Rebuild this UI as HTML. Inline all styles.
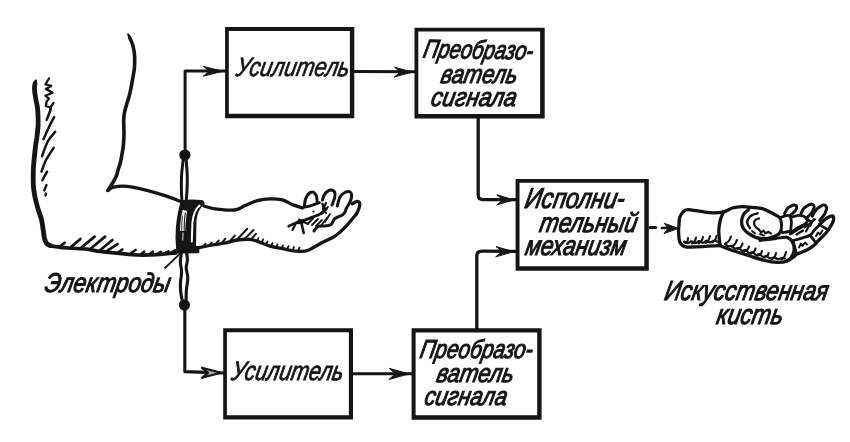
<!DOCTYPE html>
<html><head><meta charset="utf-8"><title>Схема</title>
<style>
html,body{margin:0;padding:0;background:#fff;}
body{width:850px;height:442px;overflow:hidden;font-family:"Liberation Sans",sans-serif;}
svg{display:block;will-change:transform;transform:translateZ(0);filter:blur(0.45px)}
svg path,svg rect{fill:none;stroke:#151515;stroke-linecap:round;stroke-linejoin:round}
svg rect{stroke-linejoin:miter}
svg text{font-family:"Liberation Sans",sans-serif;font-style:italic;fill:#151515;stroke:#151515;stroke-width:1.1px}
</style></head><body>
<svg width="850" height="442" viewBox="0 0 850 442">
<path d="M225.1 27.1H354.3V118.2H225.1ZM228.8 30.9H349.9V113.7H228.8Z" style="fill:#151515;stroke:none;fill-rule:evenodd"/>
<path d="M414.5 27.8H544.7V118.5H414.5ZM418.3 31.6H540.1V113.9H418.3Z" style="fill:#151515;stroke:none;fill-rule:evenodd"/>
<path d="M223.2 328.2H353.0V419.5H223.2ZM226.9 332.3H348.9V415.2H226.9Z" style="fill:#151515;stroke:none;fill-rule:evenodd"/>
<path d="M411.6 328.2H541.6V419.8H411.6ZM415.6 332.5H537.2V415.3H415.6Z" style="fill:#151515;stroke:none;fill-rule:evenodd"/>
<path d="M515.6 179.0H648.8V270.8H515.6ZM519.5 182.7H644.3V266.2H519.5Z" style="fill:#151515;stroke:none;fill-rule:evenodd"/>
<path d="M185.1 155.0L185.1 70.9L226.0 71.1" stroke-width="3.0" />
<path d="M354.0 71.4L415.5 71.8" stroke-width="3.0" />
<path d="M478.2 117L478.2 195Q478.2 199.6 483 199.6L516.5 199.6" stroke-width="3.3" />
<path d="M184.8 305.0L184.8 371.6L206.0 372.4L224.0 373.0" stroke-width="3.1" />
<path d="M353.0 373.8L412.5 373.8" stroke-width="3.1" />
<path d="M476.8 329L476.8 256Q476.8 251.2 482 251.2L516.5 251.4" stroke-width="3.3" />
<path d="M222.5 71.2L203.5 66.4L209.5 71.2L203.5 76.0Z" style="fill:#151515" stroke-width="1"/>
<path d="M412.0 72.0L394.5 67.2L400.5 72.0L394.5 76.8Z" style="fill:#151515" stroke-width="1"/>
<path d="M221.0 372.8L202.0 367.8L208.0 372.8L202.0 377.8Z" style="fill:#aaa" stroke-width="2.2"/>
<path d="M408.8 373.8L389.3 368.4L395.3 373.8L389.3 379.2Z" style="fill:#151515" stroke-width="1"/>
<path d="M513.5 199.8L497.0 194.8L503.0 199.8L497.0 204.8Z" style="fill:#151515" stroke-width="1"/>
<path d="M513.5 251.6L496.0 246.6L502.0 251.6L496.0 256.6Z" style="fill:#151515" stroke-width="1"/>
<path d="M650.0 227.6L655.6 227.6" stroke-width="3.0" />
<path d="M662.0 228.0L668.0 228.0" stroke-width="2.6" />
<path d="M678.2 228.3L664.2 223.3L668.2 228.3L664.2 233.3Z" style="fill:#151515" stroke-width="1"/>
<circle cx="184.9" cy="155" r="5.6" style="fill:#151515;stroke:none"/>
<circle cx="184.4" cy="305" r="5.6" style="fill:#151515;stroke:none"/>
<path d="M183.4 158.0C183.1 160.8 181.9 169.7 181.6 175.0C181.3 180.3 181.3 185.5 181.4 190.0C181.5 194.5 181.9 200.0 182.0 202.0" stroke-width="3.0" />
<path d="M186.0 158.0C186.2 160.8 187.0 169.7 187.2 175.0C187.4 180.3 187.2 185.5 187.0 190.0C186.8 194.5 186.3 200.0 186.2 202.0" stroke-width="3.0" />
<path d="M181.4 252.0C181.2 253.7 180.4 258.7 180.4 262.0C180.4 265.3 181.6 268.3 181.6 272.0C181.6 275.7 180.5 280.3 180.4 284.0C180.3 287.7 180.6 291.0 181.0 294.0C181.4 297.0 182.3 300.7 182.6 302.0" stroke-width="3.1" />
<path d="M186.4 252.0C186.6 253.3 187.4 257.3 187.4 260.0C187.4 262.7 186.1 265.0 186.2 268.0C186.3 271.0 187.8 274.3 187.8 278.0C187.8 281.7 186.7 286.0 186.4 290.0C186.1 294.0 186.1 300.0 186.0 302.0" stroke-width="3.1" />
<path d="M35.7 80.8L34.9 84.0" stroke-width="2.6" />
<path d="M35.0 83.5C34.9 84.4 34.4 86.6 34.5 89.0C34.6 91.4 35.1 94.8 35.6 98.0C36.1 101.2 37.1 104.7 37.5 108.0C37.9 111.3 38.0 114.8 38.1 118.0C38.2 121.2 38.2 123.7 38.0 127.0C37.8 130.3 37.2 134.5 36.8 138.0C36.3 141.5 35.8 143.5 35.3 148.0C34.8 152.5 34.0 160.3 33.6 165.0C33.2 169.7 33.2 172.5 33.2 176.0C33.2 179.5 33.2 182.8 33.4 186.0C33.6 189.2 34.1 192.2 34.6 195.0C35.1 197.8 35.7 200.2 36.4 203.0C37.1 205.8 38.1 209.2 39.0 212.0C39.9 214.8 40.8 216.3 41.6 220.0C42.4 223.7 43.3 231.0 43.8 234.3C44.3 237.6 44.3 238.1 44.8 239.6C45.3 241.1 45.9 242.6 46.8 243.6C47.7 244.6 49.8 245.3 50.4 245.6" stroke-width="4.8" />
<path d="M49.6 245.6C50.3 245.7 50.7 245.9 53.8 246.3C56.9 246.7 62.5 247.5 68.0 248.0C73.5 248.5 81.7 248.6 87.0 249.2C92.3 249.8 94.7 250.7 100.0 251.4C105.3 252.1 112.7 252.7 119.0 253.3C125.3 253.9 131.7 254.8 138.0 255.0C144.3 255.2 150.7 255.0 157.0 254.6C163.3 254.2 172.8 253.1 176.0 252.8" stroke-width="3.7" />
<path d="M128.2 34.6L130.2 38.5" stroke-width="2.2" />
<path d="M129.6 37.5C130.1 38.5 131.5 41.4 132.3 43.8C133.1 46.2 133.8 49.3 134.2 52.0C134.6 54.7 134.7 57.3 134.7 60.0C134.7 62.7 134.7 65.2 134.4 68.0C134.1 70.8 133.6 73.7 133.0 77.0C132.4 80.3 131.6 84.8 131.0 88.0C130.4 91.2 130.0 93.1 129.2 96.0C128.4 98.9 127.1 102.7 126.3 105.5C125.5 108.3 124.8 110.6 124.4 113.0C124.0 115.4 123.8 116.3 123.7 119.8C123.6 123.3 124.0 130.3 124.0 134.0C124.0 137.7 123.8 139.6 123.6 142.0C123.4 144.4 123.5 144.9 123.0 148.3C122.5 151.7 121.2 159.1 120.4 162.5C119.6 165.9 119.0 166.8 118.3 169.0C117.6 171.2 117.5 173.3 116.4 175.8C115.4 178.3 113.4 181.6 112.0 184.0C110.6 186.4 108.7 189.2 108.0 190.2" stroke-width="3.6" />
<path d="M107.6 190.6C108.6 190.0 110.9 187.9 113.5 187.2C116.1 186.5 119.8 186.2 123.0 186.2C126.2 186.2 128.5 186.5 132.5 187.2C136.5 187.9 141.4 188.9 146.8 190.3C152.2 191.7 159.5 193.8 165.0 195.6C170.5 197.4 177.5 200.3 180.0 201.2" stroke-width="3.3" />
<path d="M49.0 78.5L45.4 84.3L51.2 85.9L45.9 89.0L52.6 92.8L45.4 95.7L49.0 98.6L46.6 101.4L45.9 106.0L50.4 107.3L53.5 103.0" stroke-width="2.3" />
<path d="M50.4 107.3L50.2 111.0" stroke-width="2.2" />
<path d="M50.9 108.5C50.6 109.4 49.7 112.1 49.0 114.0C48.3 115.9 47.0 118.9 46.6 119.9" stroke-width="2.5" />
<path d="M54.2 117.0C53.3 118.7 50.8 123.3 49.0 127.0C47.2 130.7 44.4 137.2 43.5 139.2" stroke-width="2.5" />
<path d="M55.2 131.8C54.0 133.3 50.2 136.9 48.0 141.0C45.8 145.1 43.0 153.8 42.0 156.3" stroke-width="2.5" />
<path d="M53.7 147.9C52.4 149.9 48.0 156.1 46.0 160.0C44.0 163.9 42.2 169.7 41.5 171.6" stroke-width="2.5" />
<path d="M47.1 171.7C46.7 172.4 45.4 174.6 44.6 176.0C43.8 177.4 42.8 179.5 42.4 180.2" stroke-width="2.5" />
<path d="M46.5 185.0L44.3 190.4" stroke-width="2.4" />
<path d="M45.9 193.6L45.4 195.4" stroke-width="2.4" />
<path d="M60.4 246.1L64.7 242.8" stroke-width="2.7" />
<path d="M70.9 247.1L80.4 239.0" stroke-width="2.7" />
<path d="M81.3 247.6L94.6 236.6" stroke-width="2.7" />
<path d="M90.8 248.5L105.1 236.6" stroke-width="2.7" />
<path d="M100.3 250.0L112.4 240.0" stroke-width="2.7" />
<path d="M107.6 250.4L117.6 244.2" stroke-width="2.7" />
<path d="M119.0 251.8L122.3 249.5" stroke-width="2.7" />
<path d="M131.4 252.8L135.6 250.0" stroke-width="2.7" />
<path d="M141.8 253.6L144.2 251.8" stroke-width="2.7" />
<path d="M150.4 253.6L152.8 251.8" stroke-width="2.7" />
<path d="M158.0 253.6L160.8 251.8" stroke-width="2.7" />
<path d="M165.6 252.8L168.4 251.4" stroke-width="2.7" />
<path d="M172.2 252.2L175.0 250.4" stroke-width="2.7" />
<path d="M180.8 201 Q192 199.4 202.6 201 Q204.6 202.4 203.2 204.4 Q197.4 208.5 195.8 220 L195.3 246.4 L198.6 246.8 L198.6 252.6 L177 252.8 L176.2 238 Q176.2 220 180.8 203.4Z" style="fill:#151515" stroke-width="1.4"/>
<path d="M199.6 205.6 Q193.6 210.5 192.4 223 L191.8 241.5" style="stroke:#fff" stroke-width="2.0"/>
<path d="M185.2 210.5 Q183 218 182.6 231" style="stroke:#fff;stroke-linecap:butt" stroke-width="5.2"/>
<path d="M185.4 213 Q184 220 184.2 233" stroke-width="1.1"/>
<path d="M182.4 216 Q181.6 222 181.6 232" stroke-width="0.9"/>
<path d="M187.8 209 Q186.6 215 187 221" stroke-width="0.9"/>
<path d="M183 233 L182.6 240" style="stroke:#999" stroke-width="1.6"/>
<path d="M165.0 268.0L180.0 253.7" stroke-width="1.8" />
<path d="M204.0 206.0C205.8 206.5 209.8 208.1 215.0 208.8C220.2 209.5 229.9 210.5 234.9 210.0C239.9 209.5 241.2 207.2 244.9 205.6C248.6 204.0 253.2 201.7 257.3 200.6C261.4 199.5 265.6 199.0 269.8 198.9C274.0 198.8 278.5 199.0 282.3 199.9C286.1 200.8 289.0 203.2 292.4 204.6C295.8 205.9 300.7 207.4 302.4 208.0" stroke-width="3.3" />
<path d="M199.0 247.6C201.2 247.2 208.0 245.8 212.3 245.0C216.6 244.2 220.6 243.8 224.8 243.0C229.0 242.2 233.2 240.6 237.3 240.0C241.5 239.4 246.2 239.1 249.7 239.3C253.1 239.6 254.6 240.3 258.0 241.5C261.4 242.7 265.9 245.0 270.0 246.2C274.1 247.4 277.9 247.9 282.5 248.7C287.1 249.5 293.2 250.9 297.4 251.2C301.5 251.5 303.6 251.8 307.4 250.5C311.2 249.2 315.4 246.1 320.0 243.7C324.6 241.3 330.7 238.9 334.8 236.2C338.9 233.5 341.7 230.6 344.8 227.5C347.9 224.4 351.4 220.0 353.5 217.5C355.6 215.0 356.2 214.6 357.3 212.4C358.4 210.2 359.8 206.3 359.8 204.5C359.8 202.7 358.6 201.5 357.3 201.4C356.1 201.3 353.1 203.3 352.3 203.7" stroke-width="3.3" />
<path d="M203.6 246.2L205.5 243.7" stroke-width="2.0" />
<path d="M209.8 245.0L211.7 242.5" stroke-width="2.0" />
<path d="M216.0 243.7L218.6 240.6" stroke-width="2.0" />
<path d="M222.3 242.5L225.4 238.7" stroke-width="2.0" />
<path d="M229.8 241.2L234.8 235.6" stroke-width="2.0" />
<path d="M237.3 239.3L247.3 228.7" stroke-width="2.0" />
<path d="M244.8 238.7L253.5 230.0" stroke-width="2.0" />
<path d="M251.0 239.3L256.0 233.7" stroke-width="2.0" />
<path d="M257.0 241.0L258.5 238.0" stroke-width="1.9" />
<path d="M261.5 242.6L263.2 239.4" stroke-width="1.9" />
<path d="M266.0 244.4L267.6 241.4" stroke-width="1.9" />
<path d="M271.0 246.4L272.5 243.2" stroke-width="1.9" />
<path d="M276.0 247.6L277.5 244.6" stroke-width="1.9" />
<path d="M281.5 248.6L283.0 245.4" stroke-width="1.9" />
<path d="M287.0 249.6L288.5 246.2" stroke-width="1.9" />
<path d="M292.5 250.5L294.0 247.0" stroke-width="1.9" />
<path d="M298.0 251.0L299.5 247.6" stroke-width="1.9" />
<path d="M304.4 205.6C304.6 204.6 304.9 201.3 305.4 199.5C305.9 197.7 306.8 196.2 307.6 195.0C308.5 193.8 309.5 192.9 310.5 192.5C311.5 192.1 312.7 191.9 313.6 192.3C314.5 192.7 315.4 193.9 316.0 195.0C316.6 196.1 316.7 197.8 316.9 199.0C317.1 200.2 317.1 201.8 317.2 202.4" stroke-width="3.0" />
<path d="M303.0 207.4C304.3 207.1 308.2 206.4 311.0 205.6C313.8 204.8 318.1 203.1 319.5 202.6" stroke-width="2.8" />
<path d="M298.5 222.2L303.5 221.2" stroke-width="4.2" />
<path d="M322.5 204.0L323.5 207.5L326.5 209.0" stroke-width="2.4" />
<path d="M322.4 200.0C322.7 199.2 323.3 196.8 324.0 195.5C324.7 194.2 325.4 192.9 326.6 192.0C327.8 191.1 329.6 189.9 331.0 190.0C332.4 190.1 334.2 191.2 334.8 192.5C335.4 193.8 335.1 195.9 334.6 198.0C334.1 200.1 332.4 203.8 332.0 205.0" stroke-width="3.0" />
<path d="M337.3 206.0C337.7 204.6 338.6 199.7 339.8 197.4C341.1 195.2 343.1 193.4 344.8 192.5C346.5 191.6 348.7 191.2 349.8 191.8C350.9 192.4 351.7 194.4 351.7 196.2C351.7 198.0 350.7 200.4 349.8 202.4C348.9 204.4 347.3 206.4 346.5 208.0C345.7 209.6 345.7 210.8 345.0 212.0C344.3 213.2 344.0 213.9 342.3 215.0C340.6 216.1 336.7 217.0 334.8 218.6C332.9 220.2 332.6 223.3 331.0 224.5C329.4 225.7 327.2 225.7 325.0 226.0C322.8 226.3 319.8 225.7 318.0 226.5C316.2 227.3 314.7 230.2 314.0 231.0" stroke-width="3.0" />
<path d="M288.7 226.2C290.1 225.6 294.3 223.5 297.0 222.5C299.7 221.5 302.2 221.0 305.0 220.0C307.8 219.0 311.5 217.5 314.0 216.5C316.5 215.5 318.0 215.2 320.0 214.0C322.0 212.8 325.0 209.8 326.0 209.0" stroke-width="2.8" />
<path d="M296.0 223.0L292.5 230.0" stroke-width="2.2" />
<path d="M301.0 221.0L303.7 233.0" stroke-width="2.6" />
<path d="M299.0 219.5L308.0 224.0" stroke-width="2.0" />
<path d="M308.0 223.5L313.0 218.5" stroke-width="1.8" />
<path d="M312.0 225.0L318.0 219.0" stroke-width="1.8" />
<path d="M316.0 226.0L322.0 220.0" stroke-width="1.8" />
<path d="M321.0 225.5L327.0 218.0" stroke-width="1.8" />
<path d="M325.0 222.0L330.0 214.0" stroke-width="1.8" />
<path d="M322.0 214.0L328.0 207.0" stroke-width="1.8" />
<path d="M326.0 203.0L323.0 209.0L326.0 213.0" stroke-width="2.2" />
<circle cx="313.5" cy="211.5" r="1.1" style="fill:#151515;stroke:none"/>
<path d="M719.4 245.6C715.5 245.8 701.6 246.6 696.0 246.8C690.4 247.0 688.3 247.5 685.6 246.8C682.9 246.1 681.2 244.8 680.0 242.4C678.8 240.0 678.8 235.3 678.6 232.4C678.4 229.5 678.8 227.6 679.0 225.0C679.2 222.4 678.8 219.1 680.0 216.6C681.2 214.1 683.1 211.0 686.0 210.0C688.9 209.0 693.4 210.4 697.4 210.8C701.4 211.2 705.6 212.5 710.0 212.7C714.4 212.9 719.9 212.6 723.6 211.8C727.3 211.0 729.2 208.9 732.3 208.0C735.4 207.1 739.0 206.7 742.3 206.6C745.6 206.5 749.0 207.0 752.3 207.3C755.6 207.7 759.2 207.8 762.3 208.7C765.4 209.6 768.0 211.0 771.0 212.5C774.0 214.0 778.5 216.7 780.0 217.5" stroke-width="3.3" />
<path d="M723.6 211.8C723.0 213.2 721.1 217.0 720.3 220.0C719.5 223.0 719.0 227.1 718.8 230.0C718.6 232.9 719.0 234.9 719.2 237.4C719.4 239.9 719.9 243.7 720.0 245.0" stroke-width="3.3" />
<path d="M718.7 245.0C720.8 245.8 726.0 248.2 731.2 250.0C736.4 251.8 744.4 254.2 750.0 256.0C755.6 257.8 760.2 259.4 764.8 260.5C769.3 261.6 773.5 262.3 777.3 262.4C781.0 262.5 784.4 262.1 787.3 261.0C790.2 259.9 793.5 256.8 794.8 256.0" stroke-width="3.3" />
<path d="M780.0 217.5C780.2 218.6 781.3 221.8 781.5 224.0C781.7 226.2 781.1 229.8 781.0 231.0" stroke-width="3.0" />
<path d="M781.0 217.4C781.8 217.1 784.5 215.8 786.0 215.6C787.5 215.4 789.1 215.1 790.0 216.2C790.9 217.3 791.2 220.2 791.4 222.0C791.6 223.8 791.2 225.5 791.0 227.0C790.8 228.5 791.4 230.1 790.0 231.0C788.6 231.9 783.7 232.3 782.4 232.6" stroke-width="2.8" />
<path d="M748.5 209.6C747.7 210.4 744.6 212.6 743.5 214.5C742.4 216.4 741.8 218.9 741.6 221.0C741.5 223.1 741.8 225.2 742.6 227.0C743.4 228.8 744.8 230.3 746.2 231.6C747.6 232.9 749.3 234.0 751.0 235.0C752.7 236.0 754.4 237.0 756.2 237.6C758.0 238.2 760.0 238.5 762.0 238.6C764.0 238.7 766.0 238.7 768.0 238.4C770.0 238.1 772.3 237.3 774.0 236.6C775.7 235.9 777.2 235.3 778.4 234.4C779.6 233.5 780.6 231.6 781.0 231.0" stroke-width="3.3" />
<path d="M757.5 213.4C756.5 213.7 753.2 214.4 751.6 215.4C750.0 216.4 748.5 218.2 747.8 219.6C747.1 221.0 747.1 222.6 747.5 224.0C747.9 225.4 749.6 227.5 750.0 228.2" stroke-width="2.5" />
<path d="M759.0 218.4C758.4 218.7 756.2 219.2 755.4 220.0C754.6 220.8 754.0 221.9 754.0 223.0C754.0 224.1 754.6 225.5 755.4 226.6C756.2 227.7 758.2 228.9 758.7 229.3" stroke-width="2.3" />
<path d="M758.7 229.3L761.0 232.4L763.6 230.5L765.4 233.4L768.5 231.8L771.0 233.6" stroke-width="2.1" />
<path d="M752.0 231.0L755.0 233.5" stroke-width="1.9" />
<path d="M760.0 234.0L764.0 235.6" stroke-width="1.9" />
<path d="M760.0 240.5C761.3 240.3 765.3 239.8 768.0 239.4C770.7 239.1 772.9 238.8 776.0 238.4C779.1 238.1 783.9 236.8 786.6 237.3C789.3 237.8 790.8 239.5 792.0 241.6C793.2 243.7 794.2 247.3 794.0 250.0C793.8 252.7 792.1 255.8 790.9 257.6C789.7 259.4 787.6 260.4 787.0 261.0" stroke-width="3.0" />
<path d="M819.6 224.6C820.7 223.6 823.9 220.2 826.0 218.7C828.1 217.2 831.1 215.8 832.4 215.8C833.7 215.9 833.6 217.7 833.6 219.0C833.6 220.3 833.0 222.0 832.3 223.5C831.6 225.0 830.5 226.4 829.5 228.0C828.5 229.6 828.0 230.7 826.0 233.0C824.0 235.3 819.5 239.4 817.4 241.6C815.3 243.8 815.0 244.5 813.2 245.9C811.4 247.3 809.6 248.6 806.8 250.0C804.0 251.4 798.7 253.2 796.2 254.4C793.7 255.6 792.7 256.6 792.0 257.0" stroke-width="3.3" />
<path d="M819.6 224.6C818.8 225.5 816.1 228.2 814.5 230.0C812.9 231.8 812.2 233.8 810.0 235.2C807.8 236.6 803.8 237.5 801.0 238.4C798.2 239.3 794.3 240.2 793.0 240.5" stroke-width="2.8" />
<path d="M819.6 224.6L828.0 229.9" stroke-width="2.8" />
<path d="M810.0 235.2L816.4 243.7" stroke-width="2.8" />
<path d="M793.0 240.5L796.2 252.6" stroke-width="2.8" />
<path d="M799.0 247.5L801.0 243.5L802.5 246.0L805.0 242.5L807.0 244.5" stroke-width="1.9" />
<path d="M816.0 236.0L818.0 232.5L820.0 234.5L822.5 230.5" stroke-width="1.9" />
<path d="M784.6 213.6C784.9 213.0 785.7 211.0 786.4 210.0C787.1 209.0 787.4 208.3 788.6 207.5C789.8 206.7 792.2 205.2 793.6 205.0C795.0 204.8 796.5 205.6 796.7 206.6C796.9 207.6 796.0 209.9 795.0 211.2C794.0 212.5 791.7 214.0 791.0 214.6" stroke-width="3.0" />
<path d="M801.0 213.7C801.3 213.0 802.4 210.6 803.0 209.6C803.6 208.6 803.5 208.4 804.8 207.5C806.1 206.6 809.4 204.5 811.0 204.3C812.6 204.2 813.9 205.6 814.2 206.6C814.5 207.6 813.5 209.2 813.0 210.4C812.5 211.6 812.2 212.3 811.0 213.7C809.8 215.0 806.8 217.7 806.0 218.5" stroke-width="3.0" />
<path d="M812.3 216.2C812.7 215.5 813.8 213.2 814.6 212.0C815.4 210.8 815.8 209.9 817.3 208.7C818.8 207.5 821.9 205.2 823.5 205.0C825.1 204.8 826.3 206.5 826.7 207.5C827.1 208.5 826.1 210.0 825.8 211.0C825.5 212.0 825.8 212.1 824.8 213.7C823.8 215.3 820.6 219.4 819.8 220.5" stroke-width="3.0" />
<path d="M791.0 217.5C792.0 217.2 795.0 215.8 797.0 215.6C799.0 215.3 801.2 215.3 803.0 216.0C804.8 216.7 807.2 218.2 807.5 219.5C807.8 220.8 806.6 222.7 805.0 224.0C803.4 225.3 800.0 226.3 798.0 227.5C796.0 228.7 793.8 230.4 793.0 231.0" stroke-width="2.8" />
<path d="M807.5 219.5C808.2 219.8 810.5 221.5 811.6 221.5C812.7 221.5 813.6 219.8 814.0 219.4" stroke-width="2.5" />
<path d="M790.5 233.5L806.0 224.0" stroke-width="3.4" />
<path d="M796.5 234.5L803.0 230.5" stroke-width="2.3" />
<path d="M804.5 227.5L815.0 219.5" stroke-width="2.1" />
<path d="M806.0 231.5L808.5 226.5" stroke-width="2.1" />
<path d="M810.0 226.0L812.0 222.5" stroke-width="2.1" />
<path d="M685.5 243.0C685.8 242.7 687.1 241.9 687.5 241.1C688.0 240.3 687.9 238.5 688.0 238.0" stroke-width="2.1" />
<path d="M692.0 243.5C692.5 243.1 694.1 242.1 694.8 241.2C695.5 240.2 695.8 238.2 696.0 237.6" stroke-width="2.1" />
<path d="M698.5 243.4C699.0 243.0 700.8 241.9 701.5 240.8C702.3 239.7 702.8 237.6 703.0 237.0" stroke-width="2.1" />
<path d="M705.5 243.0C706.0 242.5 707.8 241.3 708.5 240.1C709.3 238.9 709.8 236.7 710.0 236.0" stroke-width="2.1" />
<path d="M712.5 242.4C713.0 242.0 714.6 240.9 715.3 239.8C716.0 238.7 716.3 236.6 716.5 236.0" stroke-width="2.1" />
<path d="M725.0 244.0C725.6 243.5 727.8 242.1 728.8 240.8C729.8 239.6 730.6 237.2 731.0 236.5" stroke-width="2.1" />
<path d="M731.5 246.6C732.1 246.2 734.1 245.0 735.0 243.9C736.0 242.8 736.7 240.7 737.0 240.0" stroke-width="2.1" />
<path d="M738.0 249.0C738.5 248.7 740.3 247.8 741.0 246.9C741.8 246.0 742.3 244.2 742.5 243.6" stroke-width="2.1" />
<path d="M744.5 251.4C745.0 251.1 746.8 250.4 747.5 249.5C748.3 248.7 748.8 247.0 749.0 246.5" stroke-width="2.1" />
<path d="M751.0 253.6C751.5 253.3 753.3 252.5 754.0 251.7C754.8 250.8 755.3 249.0 755.5 248.5" stroke-width="2.1" />
<path d="M758.0 255.6C758.5 255.3 760.1 254.7 760.8 253.9C761.5 253.1 761.8 251.5 762.0 251.0" stroke-width="2.1" />
<path d="M765.0 257.5C765.4 257.2 767.0 256.6 767.5 255.8C768.1 255.1 768.3 253.5 768.5 253.0" stroke-width="2.1" />
<path d="M772.0 259.0C772.5 258.6 774.1 257.6 774.8 256.6C775.5 255.6 775.8 253.6 776.0 253.0" stroke-width="2.1" />
<path d="M781.5 259.6C782.0 259.1 783.8 257.7 784.5 256.4C785.3 255.1 785.8 252.7 786.0 252.0" stroke-width="2.1" />
<path d="M684.0 241.6C684.7 241.9 686.8 243.2 688.0 243.2C689.2 243.2 690.2 241.4 691.5 241.4C692.8 241.4 694.2 243.0 695.5 243.0C696.8 243.0 697.8 241.2 699.0 241.2C700.2 241.2 701.8 242.8 703.0 242.8C704.2 242.8 705.2 241.1 706.5 241.0C707.8 240.9 709.2 242.5 710.5 242.4C711.8 242.3 712.8 240.7 714.0 240.6C715.2 240.5 717.3 241.8 718.0 242.0" stroke-width="2.3" />
<path d="M725.0 244.2C725.6 244.6 727.4 246.1 728.5 246.4C729.6 246.7 730.4 245.4 731.5 245.8C732.6 246.2 733.8 248.3 735.0 248.6C736.2 248.9 737.3 247.4 738.5 247.8C739.7 248.2 740.8 250.4 742.0 250.8C743.2 251.2 744.3 249.6 745.5 250.0C746.7 250.4 747.8 252.6 749.0 253.0C750.2 253.4 751.3 251.9 752.5 252.2C753.7 252.5 754.8 254.7 756.0 255.0C757.2 255.3 758.3 253.9 759.5 254.2C760.7 254.5 761.8 256.5 763.0 256.8C764.2 257.1 765.3 255.7 766.5 256.0C767.7 256.3 768.8 258.2 770.0 258.4C771.2 258.6 772.7 257.3 774.0 257.4C775.3 257.5 776.7 259.1 778.0 259.2C779.3 259.3 780.8 258.1 782.0 258.0C783.2 257.9 784.5 258.5 785.0 258.6" stroke-width="2.2" />
<text transform="translate(234.9,76.4) rotate(0) skewX(-11)" x="0" y="0" textLength="113.3" lengthAdjust="spacingAndGlyphs" font-size="26.5" style="stroke-width:0.75px">Усилитель</text>
<text transform="translate(230.4,380.2) rotate(0) skewX(-11)" x="0" y="0" textLength="111.8" lengthAdjust="spacingAndGlyphs" font-size="26.5" style="stroke-width:0.85px">Усилитель</text>
<text transform="translate(422.3,57.6) rotate(1.0) skewX(-11)" x="0" y="0" textLength="109.4" lengthAdjust="spacingAndGlyphs" font-size="26" >Преобразо-</text>
<text transform="translate(439.8,82.9) rotate(0) skewX(-11)" x="0" y="0" textLength="76.4" lengthAdjust="spacingAndGlyphs" font-size="26" >ватель</text>
<text transform="translate(430.0,105.6) rotate(0) skewX(-11)" x="0" y="0" textLength="85.4" lengthAdjust="spacingAndGlyphs" font-size="26" >сигнала</text>
<text transform="translate(419.0,358.0) rotate(0) skewX(-11)" x="0" y="0" textLength="112.4" lengthAdjust="spacingAndGlyphs" font-size="26" >Преобразо-</text>
<text transform="translate(435.6,382.0) rotate(0) skewX(-11)" x="0" y="0" textLength="76.9" lengthAdjust="spacingAndGlyphs" font-size="26" >ватель</text>
<text transform="translate(423.4,405.3) rotate(0) skewX(-11)" x="0" y="0" textLength="82.4" lengthAdjust="spacingAndGlyphs" font-size="26" >сигнала</text>
<text transform="translate(523.8,208.2) rotate(0) skewX(-11)" x="0" y="0" textLength="99.5" lengthAdjust="spacingAndGlyphs" font-size="28.5" >Исполни-</text>
<text transform="translate(538.6,231.5) rotate(0) skewX(-11)" x="0" y="0" textLength="97.2" lengthAdjust="spacingAndGlyphs" font-size="27.5" >тельный</text>
<text transform="translate(524.2,254.8) rotate(0) skewX(-11)" x="0" y="0" textLength="100.7" lengthAdjust="spacingAndGlyphs" font-size="27.5" >механизм</text>
<text transform="translate(43.8,292.1) rotate(0) skewX(-11)" x="0" y="0" textLength="125.2" lengthAdjust="spacingAndGlyphs" font-size="27" >Электроды</text>
<text transform="translate(663.5,300.0) rotate(0) skewX(-11)" x="0" y="0" textLength="163.2" lengthAdjust="spacingAndGlyphs" font-size="27.5" >Искусственная</text>
<text transform="translate(715.6,323.8) rotate(0) skewX(-11)" x="0" y="0" textLength="66.1" lengthAdjust="spacingAndGlyphs" font-size="28" >кисть</text>
</svg>
</body></html>
